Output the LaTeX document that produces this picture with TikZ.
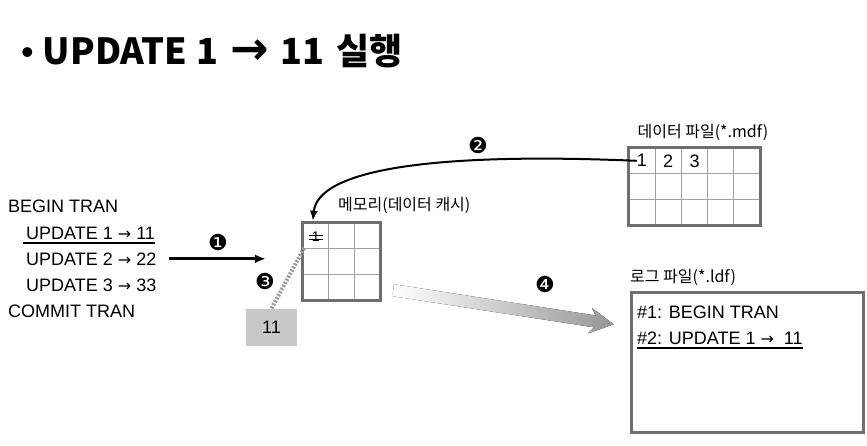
\documentclass[tikz,border=0pt]{standalone}
\usepackage{fontspec}
\setmainfont{Liberation Sans}
\newfontfamily\krfont{Noto Sans CJK KR}
\newfontfamily\symfont{DejaVu Sans}
\usetikzlibrary{
  arrows.meta,
  calc,
  positioning
}
\definecolor{dbInk}{HTML}{000000}
\definecolor{dbFrame}{HTML}{6E6E6E}
\definecolor{dbCell}{HTML}{A0A0A0}
\definecolor{dbPatch}{HTML}{C8C8C8}
\definecolor{dbDots}{HTML}{9C9C9C}
\definecolor{dbFade}{HTML}{969696}
\newcommand{\toarrow}{{\symfont\fontsize{16}{18}\selectfont →}}
\tikzset{
  every node/.style={font=\fontsize{18}{20}\selectfont, text=dbInk, inner sep=0pt},
  heading/.style={font=\krfont\bfseries\fontsize{36}{40}\selectfont},
  krlabel/.style={font=\krfont\fontsize{16}{18}\selectfont},
  stepmark/.style={font=\symfont\fontsize{22}{24}\selectfont},
  sqlline/.style={anchor=base west},
  store/.style={draw=none, fill=white},
  frame/.style={draw=dbFrame, line width=3pt},
  cellline/.style={draw=dbCell, line width=1pt},
  patch/.style={fill=dbPatch, minimum width=51pt, minimum height=37pt},
  link/.style={
    -{Latex[length=11pt,width=9pt]},
    line width=3pt
  },
  curvelink/.style={
    -{Latex[length=10pt,width=8pt]},
    line width=2pt
  },
  copylink/.style={
    draw=dbDots,
    line width=4pt,
    dash pattern=on 2pt off 1.5pt
  }
}

\begin{document}
\begin{tikzpicture}[x=1pt, y=-1pt]
  \useasboundingbox (0,0) rectangle (867,445);

  \node[heading, anchor=base west] (title) at (21,64)
    {{\rmfamily\mdseries •}\hspace{9pt}UPDATE\hspace{9pt}1\hspace{12pt}{\symfont\bfseries\fontsize{46}{46}\selectfont →}\hspace{12pt}11\hspace{12pt}실행};

  % transaction script
  \node[sqlline] (begin) at (8,212) {BEGIN TRAN};
  \node[sqlline] (upd1) at (26,239) {UPDATE 1 \toarrow{} 11};
  \node[sqlline] (upd2) at (26,265) {UPDATE 2 \toarrow{} 22};
  \node[sqlline] (upd3) at (26,291) {UPDATE 3 \toarrow{} 33};
  \node[sqlline] (commit) at (8,317) {COMMIT TRAN};
  \draw[line width=1.2pt] ($(upd1.base west)+(-3,4)$) -- ($(upd1.base east)+(0,4)$);

  % memory (data cache)
  \node[store, minimum width=77pt, minimum height=77pt] (mem) at (341.5,261.5) {};
  \foreach \k in {1,2} {
    \draw[cellline] ($(mem.north west)!\k/3!(mem.north east)$) -- ($(mem.south west)!\k/3!(mem.south east)$);
    \draw[cellline] ($(mem.north west)!\k/3!(mem.south west)$) -- ($(mem.north east)!\k/3!(mem.south east)$);
  }
  \draw[frame] (mem.north west) rectangle (mem.south east);
  \node[font=\fontsize{14}{15}\selectfont] (m1) at ($(mem.north west)!1/6!(mem.north east)+(0,14)$) {1};
  \draw[line width=0.8pt] ($(m1.center)+(-7,-1)$) -- ++(14,0);
  \draw[line width=0.8pt] ($(m1.center)+(-7,2.5)$) -- ++(14,0);
  \node[krlabel, anchor=west] (memlabel) at (338,205) {메모리(데이터 캐시)};

  % data file
  \node[store, minimum width=131pt, minimum height=77pt] (datafile) at (694.5,186.5) {};
  \foreach \k in {1,...,4}
    \draw[cellline] ($(datafile.north west)!\k/5!(datafile.north east)$) -- ($(datafile.south west)!\k/5!(datafile.south east)$);
  \foreach \k in {1,2}
    \draw[cellline] ($(datafile.north west)!\k/3!(datafile.south west)$) -- ($(datafile.north east)!\k/3!(datafile.south east)$);
  \draw[frame] (datafile.north west) rectangle (datafile.south east);
  \foreach \v [evaluate=\v as \f using (2*\v-1)/10] in {1,2,3}
    \node (d\v) at ($(datafile.north west)!\f!(datafile.north east)+(0,13)$) {\v};
  \node[krlabel] (datalabel) at (703,132) {데이터 파일(*.mdf)};

  % log file
  \node[store, minimum width=231pt, minimum height=139pt] (logfile) at (747.5,362.5) {};
  \draw[frame] (logfile.north west) rectangle (logfile.south east);
  \node[krlabel, anchor=west] (loglabel) at (630,277) {로그 파일(*.ldf)};
  \node[sqlline] (log1) at (637,318) {\#1: BEGIN TRAN};
  \node[sqlline] (log2) at (637,344) {\#2: UPDATE 1 \toarrow{} \ 11};
  \draw[line width=1.2pt] ($(log2.base west)+(0,4)$) -- ($(log2.base east)+(0,4)$);

  % new value
  \node[patch] (patch) at (271.5,327) {11};

  % steps
  \draw[link, shorten <=12pt, shorten >=37pt] (upd2.east) -- (upd2.east -| mem.west);
  \node[stepmark] (s1) at (218,242) {❶};
  \draw[curvelink] (d1.west) .. controls (430,152) and (318,170) .. ($(mem.north west)+(10,-2)$);
  \node[stepmark] (s2) at (478,145) {❷};
  \draw[copylink] (patch.north) -- ($(mem.north west)+(2,24)$);
  \node[stepmark] (s3) at (265,281) {❸};
  \begin{scope}[shift={($(mem.south east)+(13,-10)$)}, rotate=-8.8]
    \fill[left color=white, right color=dbFade]
      (0,-6) -- (204,-6) -- (199,-13) -- (223,0) -- (199,13) -- (204,6) -- (0,6) -- cycle;
  \end{scope}
  \node[stepmark] (s4) at (545,284) {❹};
\end{tikzpicture}
\end{document}
